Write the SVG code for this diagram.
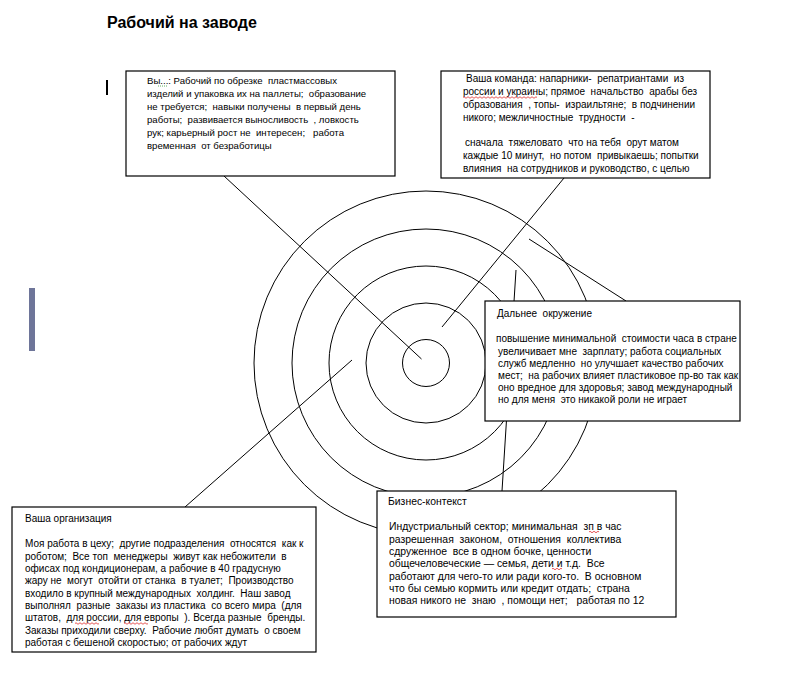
<svg xmlns="http://www.w3.org/2000/svg" width="801" height="687" viewBox="0 0 801 687">
<style>
.bg{fill:#ffffff}
.ring{fill:none;stroke:#000;stroke-width:1}
.conn{stroke:#000;stroke-width:1;fill:none}
.box{fill:#ffffff;stroke:#000;stroke-width:1.2}
.t{font-family:"Liberation Sans",Arial,sans-serif;font-size:10px;fill:#000;white-space:pre}
.s1{font-size:9.6px}
.s4{font-size:10.4px}
.title{font-family:"Liberation Sans",Arial,sans-serif;font-size:16px;font-weight:bold;fill:#000}
.sq{fill:none;stroke:#e03030;stroke-width:0.8}
.sqg{fill:none;stroke:#3a9a3a;stroke-width:0.8;stroke-dasharray:1 1}
</style>
<rect class="bg" x="0" y="0" width="801" height="687"/>
<text class="title" x="107" y="28">Рабочий на заводе</text>
<rect x="106" y="80" width="2" height="15" fill="#000"/>
<rect x="29" y="288" width="6" height="63" fill="#6e7599"/>
<g id="rings">
<circle class="ring" cx="426" cy="363" r="23.5"/>
<circle class="ring" cx="426" cy="363" r="60"/>
<circle class="ring" cx="426" cy="363" r="97"/>
<circle class="ring" cx="426" cy="363" r="134"/>
<circle class="ring" cx="426" cy="363" r="172"/>
</g>
<g id="connectors">
<line class="conn" x1="224" y1="176" x2="421.5" y2="359"/>
<line class="conn" x1="564" y1="178" x2="442" y2="327"/>
<line class="conn" x1="529" y1="239" x2="626" y2="301"/>
<line class="conn" x1="516" y1="270" x2="502" y2="491"/>
<line class="conn" x1="185" y1="507" x2="352" y2="360"/>
</g>
<g id="node-self">
<rect class="box" x="126" y="71" width="269" height="105"/>
<text class="t s1" x="147" y="84">Вы...: Рабочий по обрезке  пластмассовых</text>
<text class="t s1" x="147" y="97">изделий и упаковка их на паллеты;  образование</text>
<text class="t s1" x="147" y="110">не требуется;  навыки получены  в первый день</text>
<text class="t s1" x="147" y="123">работы;  развивается выносливость  , ловкость</text>
<text class="t s1" x="147" y="136">рук; карьерный рост не  интересен;   работа</text>
<text class="t s1" x="147" y="149">временная  от безработицы</text>
<path class="sqg" d="M158 86 H167"/>
</g>
<g id="node-team">
<rect class="box" x="441" y="71" width="269" height="107"/>
<text class="t" x="466" y="82">Ваша команда: напарники-  репатриантами  из</text>
<text class="t" x="463" y="95">россии и украины; прямое  начальство  арабы без</text>
<text class="t" x="463" y="108">образования  , топы-  израильтяне;  в подчинении</text>
<text class="t" x="463" y="121">никого; межличностные  трудности  -</text>
<text class="t" x="465" y="146">сначала  тяжеловато  что на тебя  орут матом</text>
<text class="t" x="463" y="159">каждые 10 минут,  но потом  привыкаешь; попытки</text>
<text class="t" x="463" y="172">влияния  на сотрудников и руководство, с целью</text>
<path class="sq" d="M463 97.5 q1 -1.5 2 0 t2 0 t2 0 t2 0 t2 0 t2 0 t2 0 t2 0 t2 0 t2 0 t2 0 t2 0 t2 0 t2 0 t2 0 t2 0 t2 0 t2 0 t2 0 t2 0 t2 0 t2 0 t2 0 t2 0 t2 0 t2 0 t2 0 t2 0 t2 0 t2 0 t2 0 t2 0 t2 0 t2 0 t2 0 t2 0 t2 0"/>
</g>
<g id="node-far">
<rect class="box" x="485" y="301" width="255" height="120"/>
<text class="t" x="497" y="317">Дальнее  окружение</text>
<text class="t" x="496" y="342">повышение минимальной  стоимости часа в стране</text>
<text class="t" x="498" y="355">увеличивает мне  зарплату; работа социальных</text>
<text class="t" x="498" y="367">служб медленно  но улучшает качество рабочих</text>
<text class="t" x="498" y="379">мест;  на рабочих влияет пластиковое пр-во так как</text>
<text class="t" x="498" y="391">оно вредное для здоровья; завод международный</text>
<text class="t" x="498" y="403">но для меня  это никакой роли не играет</text>
</g>
<g id="node-business">
<rect class="box" x="377" y="491" width="299" height="126"/>
<text class="t s4" x="388" y="505">Бизнес-контекст</text>
<text class="t s4" x="389" y="530">Индустриальный сектор; минимальная  зп в час</text>
<text class="t s4" x="389" y="543">разрешенная  законом,  отношения  коллектива</text>
<text class="t s4" x="389" y="555">сдруженное  все в одном бочке, ценности</text>
<text class="t s4" x="389" y="567">общечеловеческие — семья, дети и т.д.  Все</text>
<text class="t s4" x="389" y="580">работают для чего-то или ради кого-то.  В основном</text>
<text class="t s4" x="389" y="592">что бы семью кормить или кредит отдать;  страна</text>
<text class="t s4" x="389" y="604">новая никого не  знаю  , помощи нет;   работая по 12</text>
<path class="sq" d="M589 532 q1 -1.5 2 0 t2 0 t2 0 t2 0 t2 0"/>
<path class="sq" d="M552 569 q1 -1.5 2 0 t2 0 t2 0 t2 0 t2 0"/>
</g>
<g id="node-org">
<rect class="box" x="12" y="507" width="304" height="145"/>
<text class="t" x="25" y="522">Ваша организация</text>
<text class="t" x="25" y="547">Моя работа в цеху;  другие подразделения  относятся  как к</text>
<text class="t" x="25" y="560">роботом;  Все топ  менеджеры  живут как небожители  в</text>
<text class="t" x="25" y="572">офисах под кондиционерам, а рабочие в 40 градусную</text>
<text class="t" x="25" y="584">жару не  могут  отойти от станка  в туалет;  Производство</text>
<text class="t" x="25" y="597">входило в крупный международных  холдинг.  Наш завод</text>
<text class="t" x="25" y="609">выполнял  разные  заказы из пластика  со всего мира  (для</text>
<text class="t" x="25" y="621">штатов,  для россии, для европы  ). Всегда разные  бренды.</text>
<text class="t" x="25" y="634">Заказы приходили сверху.  Рабочие любят думать  о своем</text>
<text class="t" x="25" y="646">работая с бешеной скоростью; от рабочих ждут</text>
<path class="sq" d="M75 623.5 q1 -1.5 2 0 t2 0 t2 0 t2 0 t2 0 t2 0 t2 0 t2 0 t2 0 t2 0 t2 0 t2 0"/>
<path class="sq" d="M124 623.5 q1 -1.5 2 0 t2 0 t2 0 t2 0 t2 0 t2 0 t2 0 t2 0 t2 0 t2 0 t2 0 t2 0"/>
</g>
</svg>
